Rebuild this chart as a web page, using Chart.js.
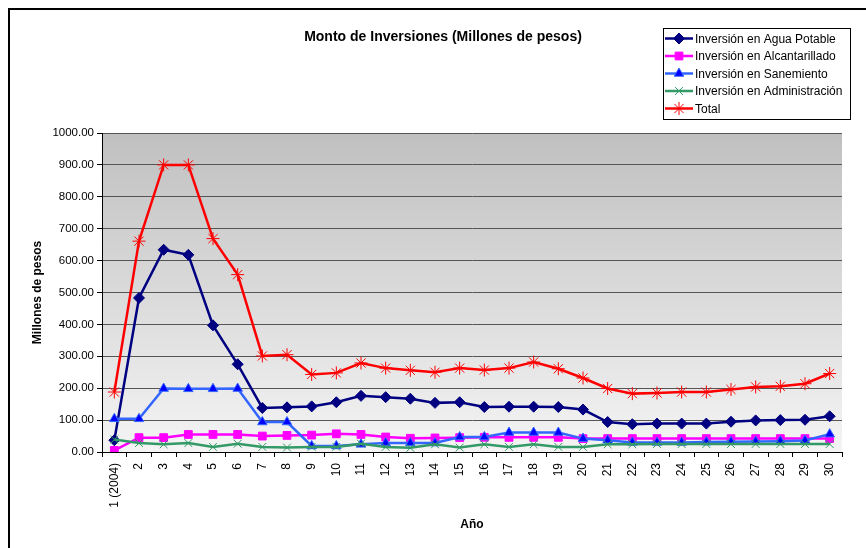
<!DOCTYPE html>
<html>
<head>
<meta charset="utf-8">
<script src="https://cdn.jsdelivr.net/npm/chart.js@4"></script>
<style>
  html, body { margin: 0; padding: 0; background: #fff; }
  #wrap { width: 866px; height: 548px; }
</style>
</head>
<body>
<div id="wrap"><canvas id="myChart" width="866" height="548"></canvas></div>
<script>
// data
var years = ['1 (2004)', '2', '3', '4', '5', '6', '7', '8', '9', '10', '11', '12', '13', '14', '15',
             '16', '17', '18', '19', '20', '21', '22', '23', '24', '25', '26', '27', '28', '29', '30'];
var aguaPotable = [37, 483, 634, 618, 397, 275, 138, 140, 143, 156, 176, 172, 167, 154, 156,
                   141, 142, 142, 141, 133, 94, 87, 89, 89, 89, 95, 99, 100, 101, 112];
var alcantarillado = [5, 45, 45, 55, 55, 55, 50, 52, 53, 57, 55, 47, 43, 44, 45,
                      46, 46, 46, 46, 42, 42, 42, 42, 42, 42, 42, 42, 42, 42, 42];
var sanemiento = [104, 104, 199, 198, 198, 199, 94, 94, 19, 19, 24, 28, 28, 28, 47,
                  47, 61, 61, 61, 42, 37, 30, 30, 30, 31, 32, 33, 34, 36, 56];
var administracion = [39, 28, 24, 28, 16, 26, 16, 14, 16, 16, 26, 16, 13, 24, 14,
                      24, 16, 24, 16, 16, 24, 24, 25, 25, 25, 25, 25, 25, 25, 25];
var total = [188, 661, 900, 900, 669, 556, 301, 305, 243, 248, 279, 263, 256, 250, 263,
             257, 263, 282, 261, 232, 199, 183, 185, 188, 188, 196, 204, 206, 214, 246];
var yTicks = [0, 100, 200, 300, 400, 500, 600, 700, 800, 900, 1000];

var FONT = '"Liberation Sans", Arial, sans-serif';

// gradient plot background, outer frame, title and legend box
var decor = {
  id: 'decor',
  beforeDraw: function (chart) {
    var ctx = chart.ctx, a = chart.chartArea;
    ctx.save();
    var g = ctx.createLinearGradient(0, a.top, 0, a.bottom);
    g.addColorStop(0, '#c0c0c0');
    g.addColorStop(1, '#f4f4f4');
    ctx.fillStyle = g;
    ctx.fillRect(a.left, a.top, a.right - a.left, a.bottom - a.top);
    ctx.restore();
  },
  afterDraw: function (chart) {
    var ctx = chart.ctx;
    ctx.save();
    // frame
    ctx.strokeStyle = '#000';
    ctx.lineWidth = 2;
    ctx.strokeRect(9, 9, 900, 600);
    // title
    ctx.fillStyle = '#000';
    ctx.font = 'bold 14px ' + FONT;
    ctx.textAlign = 'center';
    ctx.textBaseline = 'middle';
    ctx.fillText('Monto de Inversiones (Millones de pesos)', 443, 37);
    // legend
    ctx.fillStyle = '#fff';
    ctx.fillRect(663, 28, 187, 91);
    ctx.lineWidth = 1;
    ctx.strokeStyle = '#000';
    ctx.strokeRect(663.5, 28.5, 187, 91);
    ctx.font = '12px ' + FONT;
    ctx.textAlign = 'left';
    chart.data.datasets.forEach(function (ds, i) {
      var y = 38.5 + i * 17.5;
      ctx.strokeStyle = ds.borderColor;
      ctx.lineWidth = 2.5;
      ctx.beginPath();
      ctx.moveTo(665, y);
      ctx.lineTo(693, y);
      ctx.stroke();
      ctx.fillStyle = ds.pointBackgroundColor;
      ctx.strokeStyle = ds.pointBorderColor;
      ctx.lineWidth = ds.pointBorderWidth;
      Chart.helpers.drawPoint(ctx, {
        pointStyle: ds.pointStyle, radius: ds.pointRadius,
        borderWidth: ds.pointBorderWidth, rotation: 0
      }, 679, y);
      ctx.fillStyle = '#000';
      ctx.fillText(ds.label, 695, y + 1);
    });
    ctx.restore();
  }
};

var ctx = document.getElementById('myChart').getContext('2d');
var myChart = new Chart(ctx, {
  type: 'line',
  data: {
    labels: years,
    datasets: [{
      label: 'Inversión en Agua Potable',
      data: aguaPotable,
      borderColor: '#000080',
      pointBackgroundColor: '#000080',
      pointBorderColor: '#000080',
      pointStyle: 'rectRot',
      pointRadius: 5.5,
      pointBorderWidth: 1,
      borderWidth: 2.5,
      order: 4
    }, {
      label: 'Inversión en Alcantarillado',
      data: alcantarillado,
      borderColor: '#ff00ff',
      pointBackgroundColor: '#ff00ff',
      pointBorderColor: '#ff00ff',
      pointStyle: 'rect',
      pointRadius: 5.5,
      pointBorderWidth: 1,
      borderWidth: 2.5,
      order: 3
    }, {
      label: 'Inversión en Sanemiento',
      data: sanemiento,
      borderColor: '#3366ff',
      pointBackgroundColor: '#0000ff',
      pointBorderColor: '#3366ff',
      pointStyle: 'triangle',
      pointRadius: 5.5,
      pointBorderWidth: 1,
      borderWidth: 2.5,
      order: 2
    }, {
      label: 'Inversión en Administración',
      data: administracion,
      borderColor: '#339966',
      pointBackgroundColor: '#339966',
      pointBorderColor: '#339966',
      pointStyle: 'crossRot',
      pointRadius: 5.5,
      pointBorderWidth: 1,
      borderWidth: 2.5,
      order: 1
    }, {
      label: 'Total',
      data: total,
      borderColor: '#ff0000',
      pointBackgroundColor: '#ff0000',
      pointBorderColor: '#ff0000',
      pointStyle: 'star',
      pointRadius: 6.5,
      pointBorderWidth: 1,
      borderWidth: 2.5,
      order: 0
    }]
  },
  options: {
    responsive: false,
    animation: false,
    layout: { padding: { left: 26, right: 24, top: 133, bottom: 12 } },
    plugins: {
      legend: { display: false },
      title: { display: false },
      tooltip: { enabled: false }
    },
    elements: { line: { tension: 0 } },
    scales: {
      x: {
        offset: true,
        afterFit: function (s) { s.height = 84; },
        grid: { offset: true, drawOnChartArea: false, drawTicks: true, tickLength: 5, tickColor: '#000' },
        border: { color: '#000', width: 1 },
        ticks: {
          autoSkip: false, minRotation: 90, maxRotation: 90, padding: 6,
          color: '#000', font: { family: FONT, size: 12 }
        },
        title: {
          display: true, text: 'Año', color: '#000',
          font: { family: FONT, size: 12, weight: 'bold' }, padding: { top: 4, bottom: 4 }
        }
      },
      y: {
        min: 0, max: 1000,
        afterFit: function (s) { s.width = 76; },
        afterBuildTicks: function (s) { s.ticks = yTicks.map(function (v) { return { value: v }; }); },
        grid: { color: '#555', lineWidth: 1, tickLength: 5, tickColor: '#000' },
        border: { color: '#000', width: 1 },
        ticks: {
          padding: 3, color: '#000', font: { family: FONT, size: 11.5 },
          callback: function (v) { return Number(v).toFixed(2); }
        },
        title: {
          display: true, text: 'Millones de pesos', color: '#000',
          font: { family: FONT, size: 12, weight: 'bold' }, padding: { top: 4, bottom: 4 }
        }
      }
    }
  },
  plugins: [decor]
});
</script>
</body>
</html>
